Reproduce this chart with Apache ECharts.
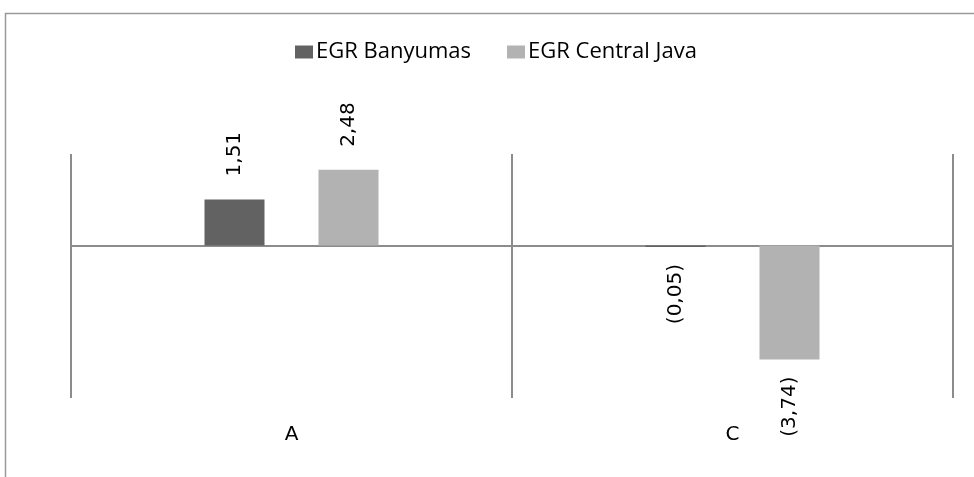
<!DOCTYPE html>
<html>
<head>
<meta charset="utf-8">
<script src="https://cdn.jsdelivr.net/npm/echarts@6/dist/echarts.min.js"></script>
<style>html,body{margin:0;padding:0;background:#fff}#c{width:974px;height:477px}</style>
</head>
<body>
<div id="c"></div>
<script>
const categories = ['A', 'C'];
const seriesNames = ['EGR Banyumas', 'EGR Central Java'];
const banyumas = [1.51, -0.05];
const centralJava = [2.48, -3.74];

const fmt = v => {
  const s = Math.abs(v).toFixed(2).replace('.', ',');
  return v < 0 ? '(' + s + ')' : s;
};
const labelFont = 'DejaVu Sans';
function mkData(vals) {
  return vals.map(v => ({
    value: v,
    label: v >= 0
      ? { position: 'top', distance: 23, align: 'left', verticalAlign: 'middle' }
      : { position: 'bottom', distance: 17, align: 'right', verticalAlign: 'middle' }
  }));
}
const chart = echarts.init(document.getElementById('c'), null, { renderer: 'canvas' });
const baseLabel = {
  show: true, rotate: 90, fontFamily: labelFont, fontSize: 20, color: '#000',
  formatter: p => fmt(p.value)
};
chart.setOption({
  animation: false,
  graphic: [{
    type: 'rect', shape: { x: 5.5, y: 13.5, width: 1100, height: 600 },
    style: { fill: 'none', stroke: '#9a9a9a', lineWidth: 1.5 }, silent: true
  }],
  legend: {
    left: 290, top: 36, itemWidth: 18, itemHeight: 13, itemGap: 36,
    textStyle: { fontFamily: 'Open Sans', fontSize: 22, color: '#000', padding: [0, 0, 0, -2] },
    icon: 'rect', data: seriesNames
  },
  grid: { left: 71, right: 21, top: 154, bottom: 79 },
  xAxis: [{
    type: 'category', data: categories, position: 'bottom',
    axisLine: { show: false, onZero: false }, axisTick: { show: false },
    axisLabel: { fontFamily: labelFont, fontSize: 20, color: '#000', margin: 27 },
    splitLine: { show: true, lineStyle: { color: '#8c8c8c', width: 2 } }
  }, {
    type: 'category', data: categories, position: 'bottom',
    axisLine: { show: true, onZero: true, lineStyle: { color: '#8c8c8c', width: 2 } },
    axisTick: { show: false }, axisLabel: { show: false }, splitLine: { show: false }
  }],
  yAxis: { type: 'value', min: -5, max: 3, interval: 1, show: false },
  series: [{
    name: seriesNames[0], type: 'bar', xAxisIndex: 0, data: mkData(banyumas),
    barWidth: 60, barGap: '90%', itemStyle: { color: '#626262' }, label: baseLabel
  }, {
    name: seriesNames[1], type: 'bar', xAxisIndex: 0, data: mkData(centralJava),
    barWidth: 60, barGap: '90%', itemStyle: { color: '#b2b2b2' }, label: baseLabel
  }]
});
</script>
</body>
</html>
